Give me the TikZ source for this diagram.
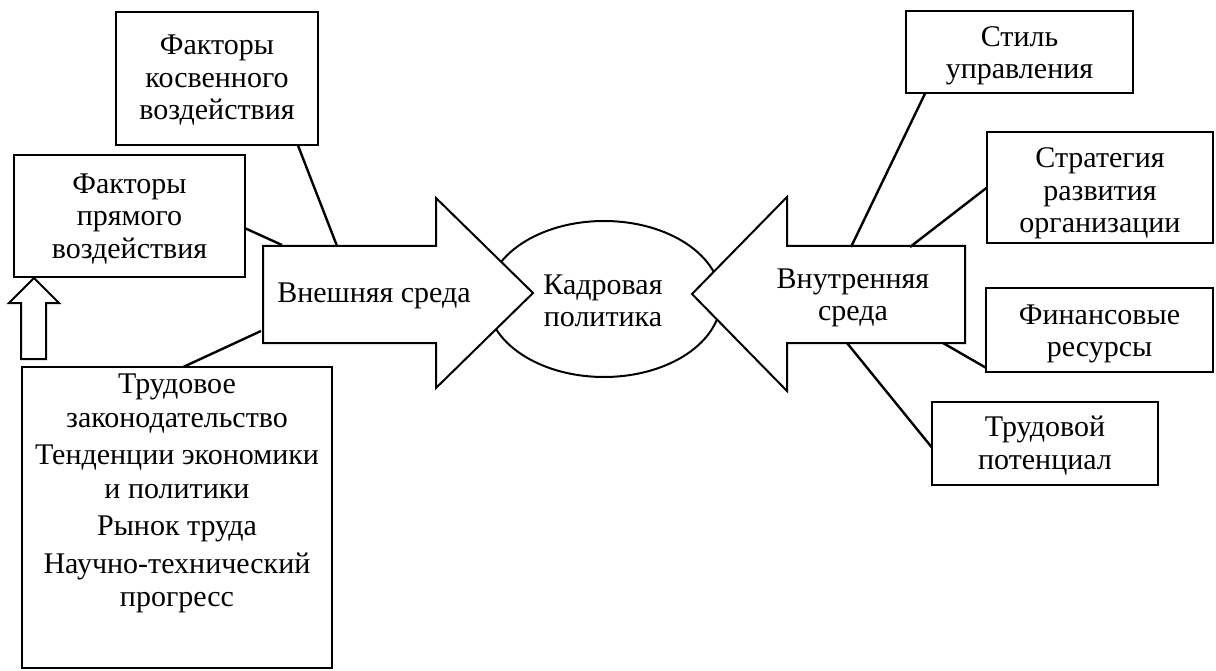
\documentclass[tikz,border=0pt]{standalone}
\usepackage{fontspec}
\setmainfont{Liberation Serif}
\newfontfamily\serifru{Liberation Serif}
\usetikzlibrary{shapes.geometric,calc}
\newcommand\txtfont{\serifru\fontsize{30}{32.5}\selectfont}
\begin{document}
\begin{tikzpicture}[x=1pt,y=-1pt,
  box/.style={draw,line width=2pt,rectangle,inner sep=0pt,outer sep=0pt},
  lbl/.style={align=center,inner sep=0pt,font=\txtfont},
  conn/.style={line width=2.4pt},
  bigarrow/.style={draw,fill=white,line width=2pt,line join=miter}]
\useasboundingbox[fill=white] (0,0) rectangle (1216,671);

% centre ellipse
\node[draw,ellipse,line width=2pt,minimum width=234pt,minimum height=156pt,inner sep=0pt] (kp) at (604,299) {};

% big arrows
\draw[bigarrow] (263,246) -- (436,246) -- (436,198) -- (533,293) -- (436,388) -- (436,343) -- (263,343) -- cycle;
\draw[bigarrow] (965,246) -- (787,246) -- (787,197) -- (692,294) -- (787,391) -- (787,343) -- (965,343) -- cycle;
\node[lbl] (ext) at (374,296) {Внешняя среда};
\node[lbl] (int) at (853,298) {Внутренняя\\среда};
\node[lbl] (kptxt) at (603,301) {Кадровая\\политика};

% endpoints on arrows
\coordinate (eA) at (337,246);
\coordinate (eB) at (282,245);
\coordinate (eC) at (261,331);
\coordinate (iA) at (851,247);
\coordinate (iB) at (910,247);
\coordinate (iC) at (943,343);
\coordinate (iD) at (847,343);

% boxes
\node[box,minimum width=202pt,minimum height=133pt] (kosv) at (217,78.5) {};
\node[box,minimum width=231pt,minimum height=122pt] (prim) at (129.5,216) {};
\node[box,minimum width=227pt,minimum height=82pt] (stil) at (1019.5,52) {};
\node[box,minimum width=226pt,minimum height=111pt] (strat) at (1100,187.5) {};
\node[box,minimum width=227pt,minimum height=84pt] (fin) at (1099.5,330) {};
\node[box,minimum width=226pt,minimum height=83pt] (trud) at (1045,443.5) {};
\node[box,minimum width=310pt,minimum height=301pt] (bot) at (177,517.5) {};

% box texts
\node[lbl] (kosvt) at ($(kosv.center)+(0,2)$) {Факторы\\косвенного\\воздействия};
\node[lbl] (primt) at ($(prim.center)+(0,3)$) {Факторы\\прямого\\воздействия};
\node[lbl] (stilt) at ($(stil.center)+(0,4)$) {Стиль\\управления};
\node[lbl] (stratt) at ($(strat.center)+(0,6)$) {Стратегия\\развития\\организации};
\node[lbl] (fint) at ($(fin.center)+(0,4)$) {Финансовые\\ресурсы};
\node[lbl] (trudt) at ($(trud.center)+(0,2)$) {Трудовой\\потенциал};
\node[lbl,anchor=north,font=\serifru\fontsize{30}{33.5}\selectfont] (bott) at ($(bot.north)+(0,7)$) {Трудовое\\законодательство\\[4pt]Тенденции экономики\\и политики\\[4pt]Рынок труда\\[4pt]Научно-технический\\прогресс};

% hollow up arrow
\draw[line width=2pt,line join=miter] (21,359) -- (21,303) -- (9,303) -- (34,278) -- (59,303) -- (46,303) -- (46,359) -- cycle;

% connectors
\draw[conn] ($(kosv.south west)!0.9!(kosv.south east)$) -- (eA);
\draw[conn] ($(prim.north east)!0.6!(prim.south east)$) -- (eB);
\draw[conn] ($(bot.north west)!0.52!(bot.north east)$) -- (eC);
\draw[conn] ($(stil.south west)!0.085!(stil.south east)$) -- (iA);
\draw[conn] (strat.west) -- (iB);
\draw[conn] ($(fin.north west)!0.95!(fin.south west)$) -- (iC);
\draw[conn] ($(trud.north west)!0.55!(trud.south west)$) -- (iD);
\end{tikzpicture}
\end{document}
